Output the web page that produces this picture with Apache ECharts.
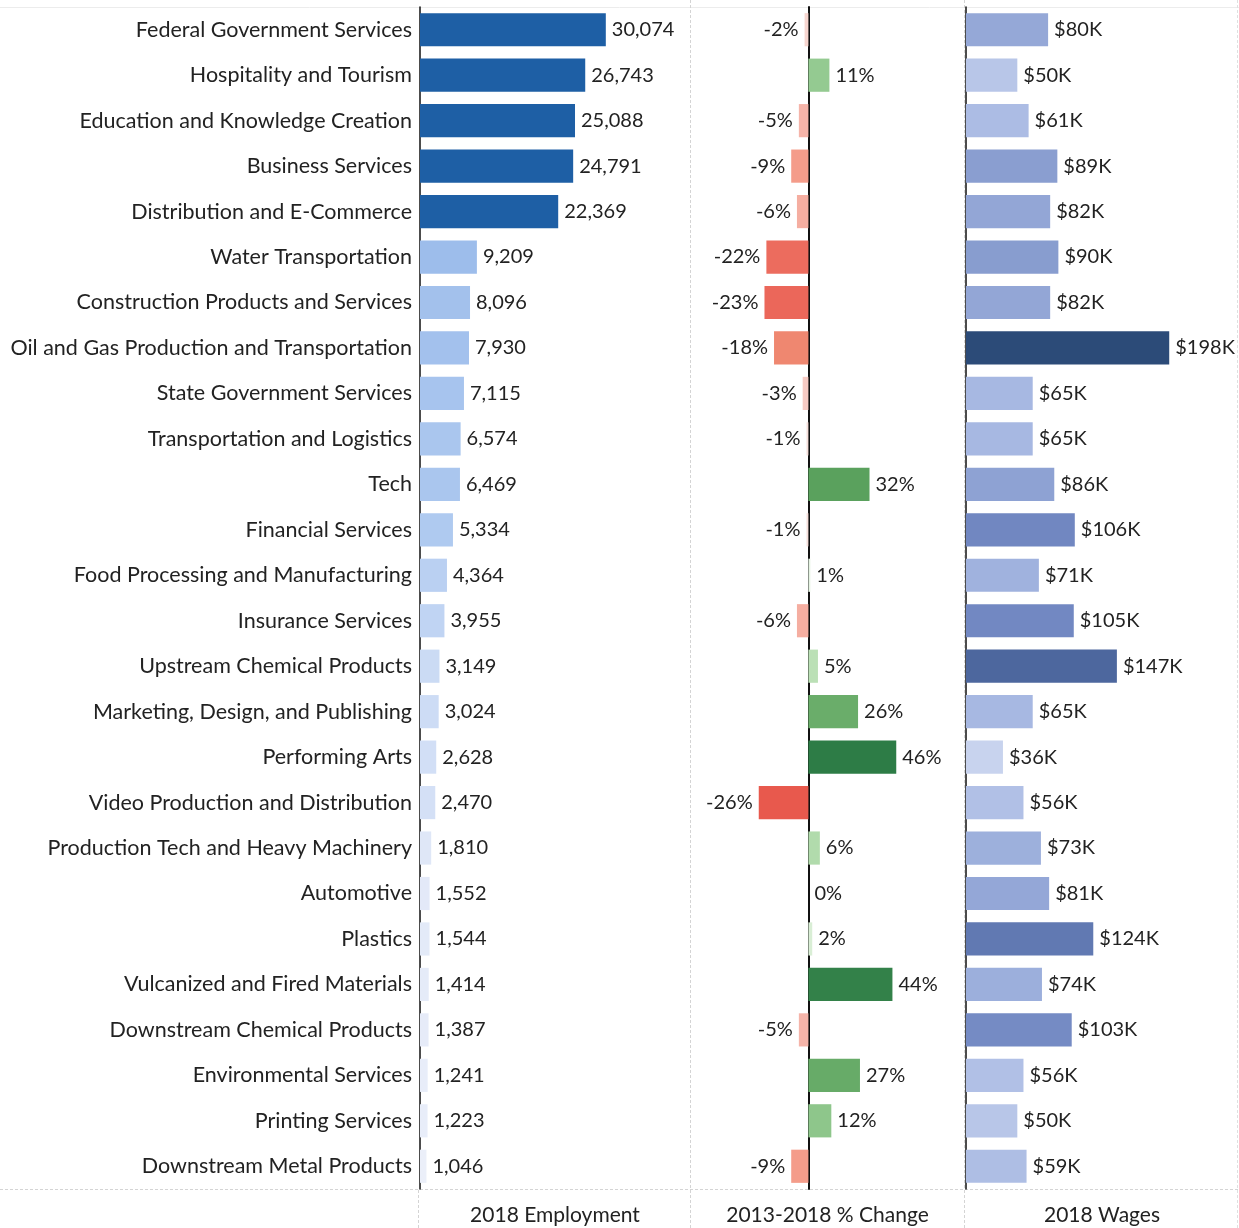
<!DOCTYPE html>
<html>
<head>
<meta charset="utf-8">
<script src="https://cdn.jsdelivr.net/npm/echarts@6/dist/echarts.min.js"></script>
<style>
  html, body { margin: 0; padding: 0; background: #fff; }
  #chart { width: 1239px; height: 1228px; }
</style>
</head>
<body>
<div id="chart"></div>
<script>
// clusters, top to bottom
const clusters = [
  'Federal Government Services', 'Hospitality and Tourism', 'Education and Knowledge Creation',
  'Business Services', 'Distribution and E-Commerce', 'Water Transportation',
  'Construction Products and Services', 'Oil and Gas Production and Transportation',
  'State Government Services', 'Transportation and Logistics', 'Tech', 'Financial Services',
  'Food Processing and Manufacturing', 'Insurance Services', 'Upstream Chemical Products',
  'Marketing, Design, and Publishing', 'Performing Arts', 'Video Production and Distribution',
  'Production Tech and Heavy Machinery', 'Automotive', 'Plastics',
  'Vulcanized and Fired Materials', 'Downstream Chemical Products', 'Environmental Services',
  'Printing Services', 'Downstream Metal Products'
]
const employment = [30074, 26743, 25088, 24791, 22369, 9209, 8096, 7930, 7115, 6574, 6469, 5334,
  4364, 3955, 3149, 3024, 2628, 2470, 1810, 1552, 1544, 1414, 1387, 1241, 1223, 1046]
const pctChange = [-2, 11, -5, -9, -6, -22, -23, -18, -3, -1, 32, -1, 1, -6, 5, 26, 46, -26, 6, 0, 2, 44, -5, 27, 12, -9]
const wagesK = [80, 50, 61, 89, 82, 90, 82, 198, 65, 65, 86, 106, 71, 105, 147, 65, 36, 56, 73, 81, 124, 74, 103, 56, 50, 59]
const panelTitles = ['2018 Employment', '2013-2018 % Change', '2018 Wages']

const FONT = 'Lato, "Open Sans", sans-serif'
const TXT = '#222'

// colour helpers (piecewise linear between stops)
function hex2rgb(h) {
  return [parseInt(h.slice(1, 3), 16), parseInt(h.slice(3, 5), 16), parseInt(h.slice(5, 7), 16)]
}
function ramp(stops, v) {
  if (v <= stops[0][0]) return stops[0][1]
  for (let i = 1; i < stops.length; i++) {
    if (v <= stops[i][0]) {
      const t = (v - stops[i - 1][0]) / (stops[i][0] - stops[i - 1][0])
      const a = hex2rgb(stops[i - 1][1]), b = hex2rgb(stops[i][1])
      return 'rgb(' + a.map((c, k) => Math.round(c + (b[k] - c) * t)).join(',') + ')'
    }
  }
  return stops[stops.length - 1][1]
}
const empStops = [[1000, '#eceff9'], [2500, '#d4e0f6'], [5000, '#b1cbf0'], [9300, '#9dbdeb']]
const negStops = [[0, '#f8ecea'], [5, '#f5b4a9'], [9, '#f49c8a'], [18, '#ef8770'], [22, '#ec6c5e'], [26, '#e8594d']]
const posStops = [[0, '#f0f7ee'], [2, '#d9eed5'], [6, '#b1dbac'], [12, '#8ec68b'], [27, '#67ab68'], [32, '#5aa15d'], [46, '#2d7c46']]
const wageStops = [[36, '#c8d3ee'], [65, '#a7b8e2'], [86, '#8ea2d3'], [106, '#7187c1'], [147, '#4d679e'], [198, '#2c4b78']]

const empColor = p => p.value > 20000 ? '#1e5fa5' : ramp(empStops, p.value)
const pctColor = p => p.value < 0 ? ramp(negStops, -p.value) : ramp(posStops, p.value)
const wageColor = p => ramp(wageStops, p.value)

const labelStyle = { color: TXT, fontFamily: FONT, fontSize: 20, distance: 6 }

const chart = echarts.init(document.getElementById('chart'))

const grids = [
  { left: 420, right: 549, top: 7, bottom: 39, outerBoundsMode: 'none' },
  { left: 690, right: 274, top: 7, bottom: 39, outerBoundsMode: 'none' },
  { left: 966, right: 1, top: 7, bottom: 39, outerBoundsMode: 'none' }
]
const xRanges = [[0, 43700], [-62, 82], [0, 265]]

const option = {
  animation: false,
  backgroundColor: '#fff',
  grid: grids,
  xAxis: xRanges.map((r, i) => ({
    type: 'value',
    gridIndex: i,
    min: r[0],
    max: r[1],
    axisLine: { show: false },
    axisTick: { show: false },
    axisLabel: { show: false },
    splitLine: { show: false },
    name: panelTitles[i],
    nameLocation: 'middle',
    nameGap: 16,
    nameTextStyle: { color: TXT, fontFamily: FONT, fontSize: 21 }
  })),
  yAxis: [0, 1, 2].map(i => ({
    type: 'category',
    gridIndex: i,
    inverse: true,
    data: clusters,
    axisTick: { show: false },
    axisLine: {
      show: true,
      onZero: i === 1,
      lineStyle: { color: '#111', width: i === 1 ? 2 : 1.5 }
    },
    axisLabel: i === 0
      ? { show: true, color: TXT, fontFamily: FONT, fontSize: 21.5, margin: 8 }
      : { show: false },
    splitLine: { show: false }
  })),
  series: [
    {
      type: 'bar',
      xAxisIndex: 0,
      yAxisIndex: 0,
      data: employment,
      barCategoryGap: '27%',
      itemStyle: { color: empColor },
      label: {
        show: true,
        position: 'right',
        ...labelStyle,
        formatter: p => p.value.toLocaleString('en-US')
      }
    },
    {
      type: 'bar',
      xAxisIndex: 1,
      yAxisIndex: 1,
      barCategoryGap: '27%',
      data: pctChange.map(v => ({
        value: v,
        label: { position: v < 0 ? 'left' : 'right' }
      })),
      itemStyle: { color: pctColor },
      label: {
        show: true,
        ...labelStyle,
        formatter: p => p.value + '%'
      }
    },
    {
      type: 'bar',
      xAxisIndex: 2,
      yAxisIndex: 2,
      data: wagesK,
      barCategoryGap: '27%',
      itemStyle: { color: wageColor },
      label: {
        show: true,
        position: 'right',
        ...labelStyle,
        formatter: p => '$' + p.value + 'K'
      }
    }
  ],
  graphic: [
    // panel frame lines
    { type: 'line', shape: { x1: 0, y1: 1189.5, x2: 1239, y2: 1189.5 }, style: { stroke: '#d4d4d4', lineWidth: 1, lineDash: [3, 2] }, z: -1 },
    { type: 'line', shape: { x1: 0, y1: 7.5, x2: 1239, y2: 7.5 }, style: { stroke: '#ececec', lineWidth: 1 }, z: -1 },
    { type: 'line', shape: { x1: 418.5, y1: 1190, x2: 418.5, y2: 1228 }, style: { stroke: '#d4d4d4', lineWidth: 1, lineDash: [3, 2] }, z: -1 },
    { type: 'line', shape: { x1: 690.5, y1: 0, x2: 690.5, y2: 1228 }, style: { stroke: '#d4d4d4', lineWidth: 1, lineDash: [3, 2] }, z: -1 },
    { type: 'line', shape: { x1: 964.5, y1: 0, x2: 964.5, y2: 1228 }, style: { stroke: '#d4d4d4', lineWidth: 1, lineDash: [3, 2] }, z: -1 },
    { type: 'line', shape: { x1: 1237.5, y1: 0, x2: 1237.5, y2: 1228 }, style: { stroke: '#e0e0e0', lineWidth: 1, lineDash: [3, 2] }, z: -1 }
  ]
}

chart.setOption(option)
</script>
</body>
</html>
